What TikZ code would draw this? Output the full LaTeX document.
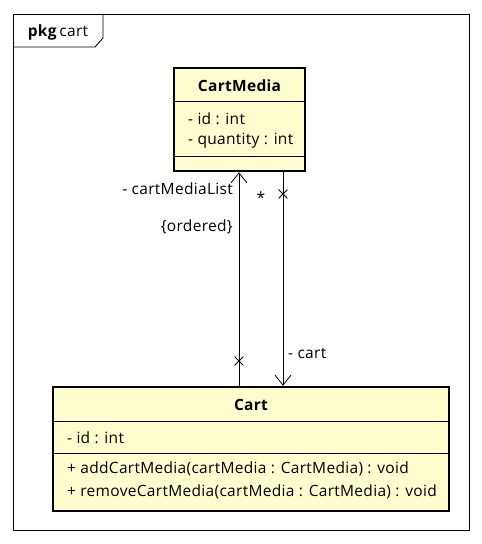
\documentclass[tikz,border=0pt]{standalone}
\usepackage{fontspec}
\setmainfont{Open Sans}[LetterSpace=2]
\usepackage{xcolor}
\usetikzlibrary{arrows.meta,positioning,shapes.misc}
\definecolor{classbg}{HTML}{FEFECE}
\newcommand{\umlfont}{\fontsize{15.5}{18}\selectfont}

\begin{document}
\begin{tikzpicture}[x=1pt,y=-1pt,
  umlbox/.style={draw=black,fill=classbg,line width=2.5pt,inner sep=0pt},
  cname/.style={font=\umlfont\bfseries,inner sep=0pt},
  attr/.style={font=\umlfont,anchor=west,inner sep=0pt},
  lbl/.style={font=\umlfont,inner sep=0pt},
  assoc/.style={-{Straight Barb[length=10pt,width=16pt]},draw=black,line width=0.8pt},
  xmark/.style={cross out,draw=black,line width=0.8pt,minimum size=8pt,inner sep=0pt}
]
\useasboundingbox (0,0) rectangle (482,544);
% package frame
\draw[line width=0.8pt] (13,14) rectangle (469,530);
\draw[line width=0.8pt] (13,47) -- (95,47) -- (103,38) -- (103,14);
\node[lbl] (pkg) at (58,32) {\textbf{pkg}\,cart};

% CartMedia
\node[umlbox,minimum width=131pt,minimum height=103pt] (cm) at (239.5,119.5) {};
\node[cname] (cmname) at (239.5,86) {CartMedia};
\draw[line width=0.8pt] (cm.west |- 0,101) -- (cm.east |- 0,101);
\draw[line width=0.8pt] (cm.west |- 0,156) -- (cm.east |- 0,156);
\node[attr] (cmid) at (188,119) {- id : int};
\node[attr] (cmqty) at (188,141) {- quantity : int};

% Cart
\node[umlbox,minimum width=396pt,minimum height=124pt] (cart) at (251,449) {};
\node[cname] (cartname) at (251,405) {Cart};
\draw[line width=0.8pt] (cart.west |- 0,421) -- (cart.east |- 0,421);
\draw[line width=0.8pt] (cart.west |- 0,453) -- (cart.east |- 0,453);
\node[attr] (cartid) at (67,438) {- id : int};
\node[attr] (addm) at (67,469) {+ addCartMedia(cartMedia : CartMedia) : void};
\node[attr] (remm) at (67,492) {+ removeCartMedia(cartMedia : CartMedia) : void};

% associations
\coordinate (lt) at ([xshift=-0.5pt]cm.south);
\coordinate (lb) at (lt |- cart.north);
\coordinate (rt) at ([xshift=43.5pt]cm.south);
\coordinate (rb) at (rt |- cart.north);
\draw[assoc] (lb) -- (lt);
\draw[assoc] (rt) -- (rb);
\node[xmark] (x1) at (lt |- 0,361) {};
\node[xmark] (x2) at (rt |- 0,194) {};
\node[lbl,anchor=east] (role1) at (233,189) {- cartMediaList};
\node[lbl,anchor=east] (ord) at (233,227) {\{ordered\}};
\node[lbl] (mult) at (261,198) {*};
\node[lbl,anchor=west] (role2) at (288,353) {- cart};
\end{tikzpicture}
\end{document}
